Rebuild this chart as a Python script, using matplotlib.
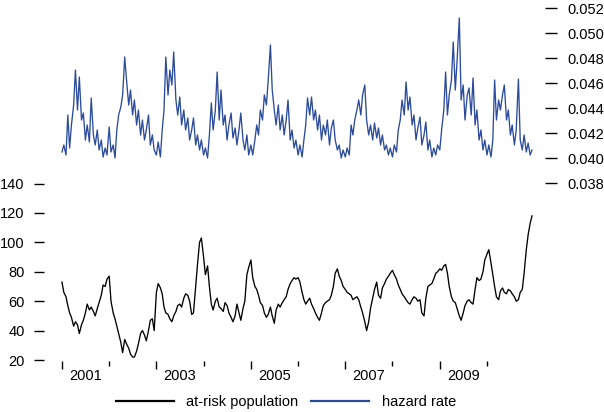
import matplotlib
matplotlib.use("Agg")
import matplotlib.pyplot as plt
import matplotlib.dates as mdates
import matplotlib.ticker as mticker
import numpy as np
import pandas as pd

plt.rcParams['font.family'] = ['Liberation Sans', 'DejaVu Sans']

# ---------------- data (semi-monthly, 2001-2010) ----------------
dates = pd.date_range('2001-01-01', periods=240, freq='SMS')

at_risk_population = [
    73, 66, 63, 57, 52, 49, 43, 46, 44, 38, 44, 47, 52, 58, 54, 56, 53, 50, 55, 59, 64, 71, 70, 75,   # 2001
    77, 60, 52, 48, 43, 38, 32, 25, 34, 31, 28, 24, 22, 22, 26, 31, 38, 40, 37, 33, 40, 47, 48, 40,   # 2002
    66, 72, 69, 65, 56, 52, 51, 48, 46, 50, 53, 57, 58, 56, 62, 65, 64, 60, 51, 52, 70, 85, 100, 103, # 2003
    90, 78, 84, 70, 58, 54, 60, 62, 56, 55, 53, 59, 57, 52, 49, 46, 50, 58, 52, 47, 55, 60, 78, 83,   # 2004
    88, 76, 70, 68, 64, 59, 57, 52, 49, 51, 56, 50, 45, 54, 58, 56, 59, 61, 63, 68, 72, 74, 76, 75,   # 2005
    76, 73, 66, 61, 58, 60, 62, 58, 55, 52, 49, 47, 52, 57, 59, 60, 61, 64, 70, 79, 82, 77, 74, 70,   # 2006
    68, 66, 65, 64, 61, 62, 63, 61, 56, 52, 46, 40, 46, 55, 62, 68, 73, 64, 62, 69, 72, 75, 77, 79,   # 2007
    81, 78, 75, 71, 68, 65, 63, 61, 59, 58, 61, 63, 62, 60, 61, 52, 50, 62, 70, 71, 72, 75, 79, 80,   # 2008
    82, 81, 84, 85, 79, 70, 63, 60, 59, 55, 50, 47, 52, 57, 60, 61, 59, 58, 68, 76, 74, 75, 80, 88,   # 2009
    92, 95, 86, 78, 70, 63, 61, 67, 69, 66, 65, 68, 67, 65, 63, 60, 61, 66, 68, 79, 95, 105, 113, 118, # 2010
]

hazard_rate = [
    0.04048, 0.04104, 0.04024, 0.04344, 0.04080, 0.04264, 0.04424, 0.04704, 0.04384, 0.04648, 0.04304, 0.04360,
    0.04144, 0.04264, 0.04128, 0.04480, 0.04184, 0.04104, 0.04224, 0.04064, 0.04144, 0.04008, 0.04080, 0.04024,  # 2001
    0.04248, 0.04048, 0.04104, 0.04000, 0.04224, 0.04344, 0.04408, 0.04504, 0.04808, 0.04624, 0.04424, 0.04544,
    0.04344, 0.04464, 0.04264, 0.04384, 0.04184, 0.04304, 0.04144, 0.04224, 0.04344, 0.04104, 0.04184, 0.04064,  # 2002
    0.04024, 0.04128, 0.04008, 0.04224, 0.04384, 0.04808, 0.04504, 0.04704, 0.04584, 0.04848, 0.04464, 0.04344,
    0.04488, 0.04264, 0.04384, 0.04224, 0.04320, 0.04144, 0.04224, 0.04320, 0.04104, 0.04184, 0.04064, 0.04144,  # 2003
    0.04024, 0.04080, 0.04000, 0.04184, 0.04440, 0.04224, 0.04384, 0.04688, 0.04304, 0.04544, 0.04264, 0.04344,
    0.04144, 0.04264, 0.04360, 0.04160, 0.04240, 0.04104, 0.04224, 0.04360, 0.04144, 0.04064, 0.04184, 0.04024,  # 2004
    0.04104, 0.04024, 0.04144, 0.04264, 0.04184, 0.04384, 0.04304, 0.04504, 0.04424, 0.04624, 0.04904, 0.04544,
    0.04384, 0.04264, 0.04424, 0.04224, 0.04344, 0.04184, 0.04304, 0.04464, 0.04144, 0.04224, 0.04080, 0.04144,  # 2005
    0.04024, 0.04104, 0.04008, 0.04144, 0.04264, 0.04480, 0.04344, 0.04488, 0.04304, 0.04384, 0.04224, 0.04344,
    0.04144, 0.04264, 0.04184, 0.04304, 0.04104, 0.04240, 0.04304, 0.04144, 0.04064, 0.04104, 0.04000, 0.04064,  # 2006
    0.04008, 0.04080, 0.04024, 0.04264, 0.04184, 0.04304, 0.04384, 0.04464, 0.04344, 0.04504, 0.04584, 0.04304,
    0.04184, 0.04264, 0.04144, 0.04280, 0.04160, 0.04240, 0.04104, 0.04184, 0.04064, 0.04104, 0.04024, 0.04080,  # 2007
    0.04008, 0.04104, 0.04048, 0.04224, 0.04304, 0.04464, 0.04344, 0.04608, 0.04384, 0.04488, 0.04264, 0.04344,
    0.04144, 0.04240, 0.04328, 0.04104, 0.04184, 0.04288, 0.04064, 0.04144, 0.04008, 0.04080, 0.04024, 0.04104,  # 2008
    0.04064, 0.04224, 0.04384, 0.04688, 0.04344, 0.04504, 0.04624, 0.04928, 0.04544, 0.04784, 0.05120, 0.04464,
    0.04584, 0.04304, 0.04504, 0.04560, 0.04344, 0.04640, 0.04264, 0.04384, 0.04144, 0.04224, 0.04064, 0.04144,  # 2009
    0.04024, 0.04104, 0.04008, 0.04144, 0.04624, 0.04304, 0.04464, 0.04384, 0.04504, 0.04584, 0.04304, 0.04384,
    0.04184, 0.04264, 0.04104, 0.04224, 0.04632, 0.04144, 0.04064, 0.04184, 0.04048, 0.04120, 0.04024, 0.04064,  # 2010
]

left_ticks = [20, 40, 60, 80, 100, 120, 140]
right_ticks = [0.038, 0.040, 0.042, 0.044, 0.046, 0.048, 0.050, 0.052]
year_labels = ['2001', '2003', '2005', '2007', '2009']
series_names = ['at-risk population', 'hazard rate']

BLUE = '#2b4b9b'
FS = 10.5
W, H = 604, 412

# ---------------- figure ----------------
fig = plt.figure(figsize=(W / 100, H / 100), dpi=100)
ax = fig.add_axes([44 / W, (H - 361) / H, (545 - 44) / W, (361 - 5) / H])
ax2 = ax.twinx()

x = mdates.date2num(dates)
l1, = ax.plot(x, at_risk_population, color='black', lw=0.95)
l2, = ax2.plot(x, hazard_rate, color=BLUE, lw=0.95)

for a in (ax, ax2):
    for s in a.spines.values():
        s.set_visible(False)

# x range
jan = lambda y: mdates.date2num(pd.Timestamp(f'{y}-01-01'))
yr = 365.25
ax.set_xlim(jan(2001) - 0.381 * yr, jan(2011) + 0.229 * yr)

# y ranges
ax.set_ylim(19.32, 261.4)
ax.set_yticks(left_ticks)
ax.tick_params(axis='y', length=7.5, width=1.0, pad=6.5, labelsize=FS)
ax2.set_ylim(0.02376, 0.05224)
ax2.set_yticks(right_ticks)
ax2.yaxis.set_major_formatter(mticker.FormatStrFormatter('%.3f'))
ax2.tick_params(axis='y', length=8.4, width=1.0, pad=7.5, labelsize=FS)

# x ticks: year boundaries (long for odd years, short for even), labels mid-year
ax.set_xticks([jan(y) for y in range(2001, 2011, 2)])
ax.set_xticks([jan(y) for y in range(2002, 2011, 2)], minor=True)
ax.tick_params(axis='x', which='major', length=6, width=1.0, labelbottom=False)
ax.tick_params(axis='x', which='minor', length=3.5, width=1.0)

sec = ax.secondary_xaxis('bottom')
sec.set_xticks([mdates.date2num(pd.Timestamp(f'{y}-07-02')) for y in year_labels],
               labels=year_labels)
sec.tick_params(axis='x', length=0, pad=6, labelsize=FS)
sec.spines['bottom'].set_visible(False)

leg = fig.legend([l1, l2], series_names, loc='center', bbox_to_anchor=(0.473, 10 / H),
                 ncol=2, frameon=False, handlelength=4.0, handletextpad=0.85,
                 columnspacing=0.85, fontsize=FS, borderpad=0, borderaxespad=0)
for ln in leg.get_lines():
    ln.set_linewidth(1.6)

fig.savefig('out.png', dpi=100)
